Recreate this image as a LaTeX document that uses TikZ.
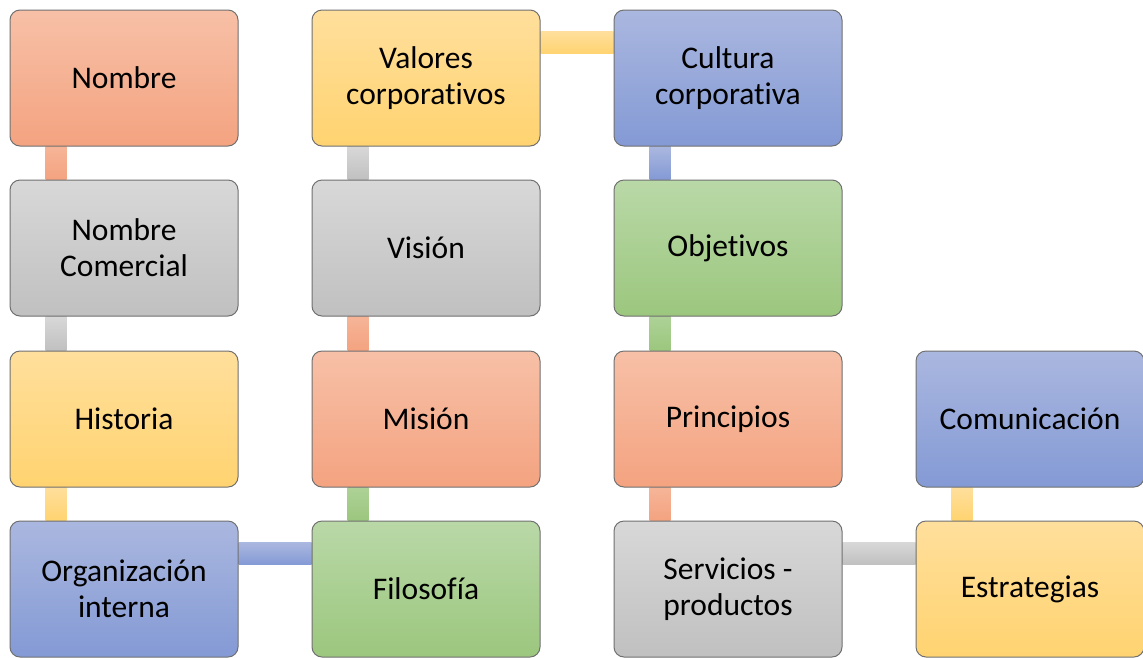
\documentclass[tikz,border=0pt]{standalone}
\usepackage{fontspec}
\setmainfont{Carlito}[Ligatures=NoCommon]
\usetikzlibrary{shadings,calc,backgrounds}
\definecolor{salT}{RGB}{247,192,167}
\definecolor{salB}{RGB}{244,163,128}
\definecolor{gryT}{RGB}{216,216,216}
\definecolor{gryB}{RGB}{192,192,192}
\definecolor{yelT}{RGB}{255,223,156}
\definecolor{yelB}{RGB}{255,211,112}
\definecolor{bluT}{RGB}{170,183,223}
\definecolor{bluB}{RGB}{132,154,213}
\definecolor{grnT}{RGB}{185,216,167}
\definecolor{grnB}{RGB}{156,199,126}
\definecolor{edge}{RGB}{112,112,112}
\tikzset{
  box/.style={rectangle, rounded corners=10pt, draw=edge, line width=1pt,
    minimum width=228pt, minimum height=136pt, align=center,
    font=\fontsize{31.5}{36}\selectfont, text=black, inner sep=0pt},
  sal/.style={box, top color=salT, bottom color=salB},
  gry/.style={box, top color=gryT, bottom color=gryB},
  yel/.style={box, top color=yelT, bottom color=yelB},
  blu/.style={box, top color=bluT, bottom color=bluB},
  grn/.style={box, top color=grnT, bottom color=grnB},
  csal/.style={top color=salT!60!salB, bottom color=salB},
  cgry/.style={top color=gryT, bottom color=gryB},
  cyel/.style={top color=yelT, bottom color=yelB},
  cblu/.style={top color=bluT, bottom color=bluB},
  cgrn/.style={top color=grnT!60!grnB, bottom color=grnB},
}
\begin{document}
\begin{tikzpicture}[x=1pt,y=-1pt]
\useasboundingbox (0,0) rectangle (1143,657);
% boxes
\node[sal] (nom) at (124,78) {Nombre};
\node[gry] (nomc) at (124,248) {Nombre\\Comercial};
\node[yel] (his) at (124,419) {Historia};
\node[blu] (org) at (124,589) {Organización\\interna};
\node[yel] (val) at (426,78) {Valores\\corporativos};
\node[gry] (vis) at (426,248) {Visión};
\node[sal] (mis) at (426,419) {Misión};
\node[grn] (fil) at (426,589) {Filosof\kern0ptía};
\node[blu] (cul) at (728,78) {Cultura\\corporativa};
\node[grn] (obj) at (728,248) {Objet\kern0ptivos};
\node[sal] (pri) at (728,419) {Principios};
\node[gry] (ser) at (728,589) {Servicios -\\productos};
\node[blu] (com) at (1030,419) {Comunicación};
\node[yel] (est) at (1030,589) {Estrategias};
% connectors
\begin{scope}[on background layer]
\fill[white] (0,0) rectangle (1143,657);
\shade[csal] ($(nom.south west)+(36,0)$) rectangle ($(nomc.north west)+(57,0)$);
\shade[cgry] ($(nomc.south west)+(36,0)$) rectangle ($(his.north west)+(57,0)$);
\shade[cyel] ($(his.south west)+(36,0)$) rectangle ($(org.north west)+(57,0)$);
\shade[cblu] ($(org.north east)+(0,22)$) rectangle ($(fil.north west)+(0,44)$);
\shade[cgrn] ($(mis.south west)+(36,0)$) rectangle ($(fil.north west)+(57,0)$);
\shade[csal] ($(vis.south west)+(36,0)$) rectangle ($(mis.north west)+(57,0)$);
\shade[cgry] ($(val.south west)+(36,0)$) rectangle ($(vis.north west)+(57,0)$);
\shade[cyel] ($(val.north east)+(0,22)$) rectangle ($(cul.north west)+(0,44)$);
\shade[cblu] ($(cul.south west)+(36,0)$) rectangle ($(obj.north west)+(57,0)$);
\shade[cgrn] ($(obj.south west)+(36,0)$) rectangle ($(pri.north west)+(57,0)$);
\shade[csal] ($(pri.south west)+(36,0)$) rectangle ($(ser.north west)+(57,0)$);
\shade[cgry] ($(ser.north east)+(0,22)$) rectangle ($(est.north west)+(0,44)$);
\shade[cyel] ($(com.south west)+(36,0)$) rectangle ($(est.north west)+(57,0)$);
\end{scope}
\end{tikzpicture}
\end{document}
